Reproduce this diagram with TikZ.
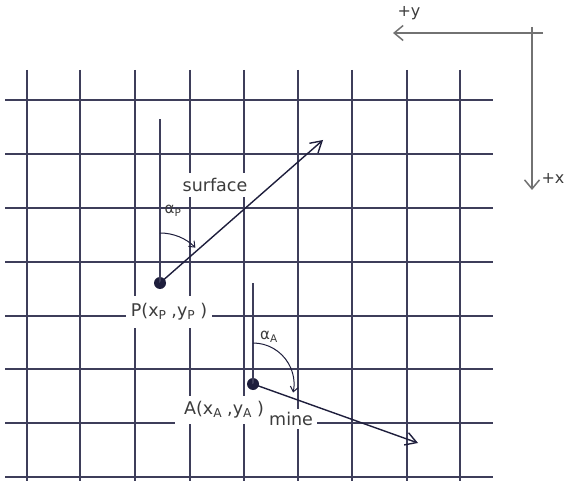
\documentclass[tikz,border=0pt]{standalone}
\usepackage{fontspec}
\setmainfont{DejaVu Sans}
\usetikzlibrary{arrows.meta}
\definecolor{gridc}{HTML}{3E3E5A}
\definecolor{ink}{HTML}{1E1E3C}
\definecolor{axisc}{HTML}{727272}
\definecolor{textc}{HTML}{3C3C3C}
\tikzset{
  gridline/.style={draw=gridc,line width=1.7pt},
  refline/.style={draw=gridc,line width=1.5pt},
  vec/.style={draw=ink,line width=1.4pt,-{Straight Barb[length=11pt,width=13pt]}},
  axisline/.style={draw=axisc,line width=1.5pt,-{Straight Barb[length=9pt,width=15pt]}},
  angarc/.style={draw=ink,line width=1pt,-{Straight Barb[length=5pt,width=8pt]}},
  dot/.style={circle,fill=ink,inner sep=0pt,minimum size=12pt},
  lbl/.style={font=\fontsize{17.5}{20}\selectfont,text=textc},
  albl/.style={font=\fontsize{15}{16}\selectfont,text=textc},
  boxlbl/.style={lbl,fill=white,inner xsep=5pt,inner ysep=8pt}
}
\begin{document}
\begin{tikzpicture}[x=1pt,y=-1pt]
\useasboundingbox (0,0) rectangle (570,481);
\draw[gridline] (5,100) -- (493,100);
\draw[gridline] (5,154) -- (493,154);
\draw[gridline] (5,208) -- (493,208);
\draw[gridline] (5,262) -- (493,262);
\draw[gridline] (5,316) -- (493,316);
\draw[gridline] (5,369) -- (493,369);
\draw[gridline] (5,423) -- (493,423);
\draw[gridline] (5,477) -- (493,477);
\draw[gridline] (27,70) -- (27,481);
\draw[gridline] (80,70) -- (80,481);
\draw[gridline] (135,70) -- (135,481);
\draw[gridline] (190,70) -- (190,481);
\draw[gridline] (244,70) -- (244,481);
\draw[gridline] (298,70) -- (298,481);
\draw[gridline] (352,70) -- (352,481);
\draw[gridline] (407,70) -- (407,481);
\draw[gridline] (460,70) -- (460,481);
\node[boxlbl,inner ysep=5pt] (surflbl) at (215,185) {surface};
\node[boxlbl] (Plbl) at (169,312) {P(x\textsubscript{P}\hspace{5pt},y\textsubscript{P}\hspace{5pt})};
\node[boxlbl,inner ysep=6pt,inner xsep=9pt] (Albl) at (224,410) {A(x\textsubscript{A}\hspace{5pt},y\textsubscript{A}\hspace{5pt})};
\node[boxlbl,inner ysep=3pt,inner xsep=4pt,anchor=west,yshift=-9pt] (minelbl) at ([xshift=-8pt]Albl.east) {mine};
\node[dot] (P) at (160,283) {};
\node[dot] (A) at (253,384) {};
\coordinate (Ptop) at (160,119);
\coordinate (Atop) at (253,283);
\coordinate (surfend) at (323,140);
\coordinate (mineend) at (418,443);
\draw[refline] (P.center) -- (Ptop);
\draw[refline] (A.center) -- (Atop);
\draw[vec] (P.center) -- (surfend);
\draw[vec] (A.center) -- (mineend);
\draw[angarc] ([shift={(-90:50)}]P.center) arc[start angle=-90,end angle=-45,radius=50];
\draw[angarc] ([shift={(-90:41)}]A.center) arc[start angle=-90,end angle=12,radius=41];
\node[albl] (aP) at (173,211) {α\textsubscript{P}};
\node[albl] (aA) at (269,337) {α\textsubscript{A}};
\coordinate (yax0) at (543,33);
\coordinate (yaxend) at (393,33);
\coordinate (xax0) at (532,27);
\coordinate (xaxend) at (532,190);
\draw[axisline] (yax0) -- (yaxend);
\draw[axisline] (xax0) -- (xaxend);
\node[lbl,font=\fontsize{16}{18}\selectfont] (ylbl) at (409,13) {+y};
\node[lbl,font=\fontsize{16}{18}\selectfont] (xlbl) at (553,178) {+x};
\end{tikzpicture}
\end{document}
